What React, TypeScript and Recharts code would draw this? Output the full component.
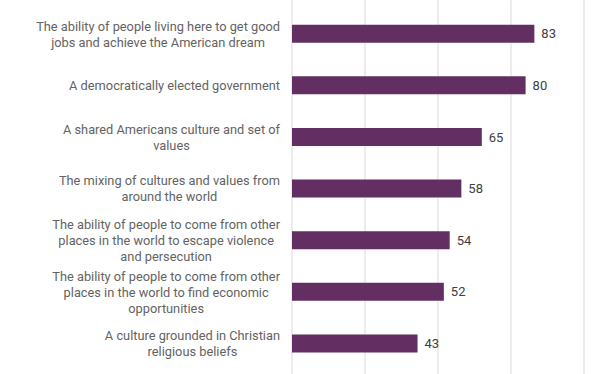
import React from "react";
import { BarChart, Bar, XAxis, YAxis, CartesianGrid, LabelList } from "recharts";

const categories: string[] = [
  "The ability of people living here to get good\njobs and achieve the American dream",
  "A democratically elected government",
  "A shared Americans culture and set of\nvalues",
  "The mixing of cultures and values from\naround the world",
  "The ability of people to come from other\nplaces in the world to escape violence\nand persecution",
  "The ability of people to come from other\nplaces in the world to find economic\nopportunities",
  "A culture grounded in Christian\nreligious beliefs",
];
const values: number[] = [83, 80, 65, 58, 54, 52, 43];
const xTicks: number[] = [0, 25, 50, 75, 100];

const data = categories.map((c, i) => ({ name: c, value: values[i] }));

const FS = 12.8;
const FONT = `${FS}px Roboto`;
let ctx: CanvasRenderingContext2D | null = null;
function measure(t: string): number {
  if (!ctx) {
    const c = document.createElement("canvas");
    ctx = c.getContext("2d");
  }
  if (!ctx) return t.length * 5.8;
  ctx.font = FONT;
  return ctx.measureText(t).width;
}

const CategoryTick = (props: any) => {
  const { x, y, payload } = props;
  const lines: string[] = String(payload.value).split("\n");
  const maxW = Math.max(...lines.map(measure));
  const right = x - 4;
  const cx = right - maxW / 2;
  const lh = 16;
  const startY = y - ((lines.length - 1) * lh) / 2;
  return (
    <text
      x={cx}
      y={startY}
      textAnchor="middle"
      fill="#636363"
      fontSize={FS}
      fontFamily="Roboto"
      dominantBaseline="central"
    >
      {lines.map((l, i) => (
        <tspan key={i} x={cx} y={startY + i * lh} dominantBaseline="central">
          {l}
        </tspan>
      ))}
    </text>
  );
};

export default function App() {
  return (
    <div style={{ position: "absolute", left: 0, top: 0, width: 612, height: 374, background: "#fff" }}>
      <BarChart
        width={612}
        height={374}
        data={data}
        layout="vertical"
        margin={{ top: 0, right: 28, bottom: 0, left: 0 }}
      >
        <CartesianGrid horizontal={false} vertical={true} stroke="#d9d9d9" strokeWidth={1} />
        <XAxis type="number" domain={[0, 100]} ticks={xTicks} hide />
        <YAxis
          type="category"
          dataKey="name"
          width={292}
          axisLine={false}
          tickLine={false}
          interval={0}
          padding={{ top: 7.7, bottom: 5 }}
          tick={<CategoryTick />}
        />
        <Bar dataKey="value" fill="#632f63" barSize={18} isAnimationActive={false}>
          <LabelList
            dataKey="value"
            position="right"
            offset={7}
            fill="#404040"
            fontSize={13}
            fontFamily="Roboto"
          />
        </Bar>
      </BarChart>
    </div>
  );
}
